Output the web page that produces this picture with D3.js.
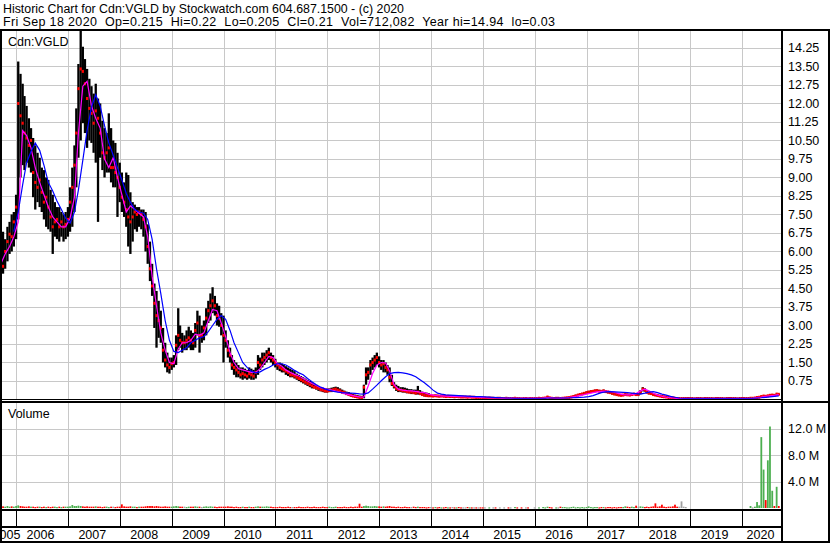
<!DOCTYPE html>
<html><head><meta charset="utf-8">
<script src="https://cdn.jsdelivr.net/npm/d3@7"></script>
<style>
html,body{margin:0;padding:0;background:#fff;}
svg{display:block;font-family:"Liberation Sans",Arial,sans-serif;}
</style></head><body>
<svg id="c" width="830" height="543"></svg>
<script>
// ---------- DATA ----------
const headerLine1 = "Historic Chart for Cdn:VGLD by Stockwatch.com 604.687.1500 - (c) 2020";
const headerLine2 = "Fri Sep 18 2020  Op=0.215  Hi=0.22  Lo=0.205  Cl=0.21  Vol=712,082  Year hi=14.94  lo=0.03";
const symbolLabel = "Cdn:VGLD";
const volumeLabel = "Volume";
const yearLabels = ["2005","2006","2007","2008","2009","2010","2011","2012","2013","2014","2015","2016","2017","2018","2019","2020"];
const priceTickLabels = ["0.75","1.50","2.25","3.00","3.75","4.50","5.25","6.00","6.75","7.50","8.25","9.00","9.75","10.50","11.25","12.00","12.75","13.50","14.25"];
const volTickValues = [4, 8, 12];
const volTickLabels = ["4.0 M","8.0 M","12.0 M"];

// semi-monthly periods from 16 Sep 2005 to 16 Sep 2020 (361 periods)
const high = [
6.4,6.8,6.5,7.0,7.2,7.5,7.6,
8.3,13.7,13.2,12.8,12.3,11.9,11.4,11.0,10.6,10.3,10.0,9.8,9.4,9.3,9.0,8.9,8.5,8.3,8.0,7.8,7.8,7.6,7.5,7.6,
7.8,8.6,9.4,10.3,11.8,13.6,14.94,14.3,13.8,13.4,13.0,12.7,12.4,12.8,12.2,12.0,11.3,11.0,10.8,11.6,11.0,10.5,10.4,10.0,
9.6,9.2,8.8,9.2,9.1,8.4,8.0,7.9,7.8,7.8,7.7,7.7,7.6,7.1,6.4,5.5,4.7,4.4,4.0,3.6,2.9,2.3,1.9,1.7,
1.7,1.8,2.6,3.7,3.0,2.7,2.6,2.8,2.95,2.8,2.7,3.1,3.6,3.4,3.0,3.2,3.7,4.0,4.3,4.55,4.2,3.9,3.8,3.5,
3.4,2.8,2.4,2.1,1.8,1.6,1.5,1.4,1.3,1.3,1.25,1.2,1.3,1.25,1.2,1.3,1.8,1.7,1.9,1.9,2.0,2.1,1.9,1.8,
1.65,1.5,1.5,1.45,1.4,1.35,1.3,1.25,1.2,1.15,1.05,1.0,0.95,0.9,0.85,0.8,0.75,0.7,0.65,0.6,0.55,0.5,0.48,0.45,
0.45,0.45,0.48,0.5,0.52,0.5,0.45,0.4,0.36,0.32,0.3,0.26,0.22,0.2,0.18,0.16,0.15,0.6,1.3,1.3,1.6,1.7,1.8,1.9,
1.75,1.6,1.6,1.5,1.4,1.3,1.0,0.7,0.6,0.55,0.5,0.5,0.48,0.45,0.42,0.42,0.4,0.4,0.55,0.38,0.32,0.3,0.28,0.26,
0.2,0.19,0.2,0.19,0.18,0.19,0.18,0.17,0.18,0.16,0.16,0.15,0.16,0.15,0.14,0.14,0.13,0.12,0.13,0.12,0.12,0.11,0.11,0.1,
0.08,0.08,0.07,0.08,0.07,0.07,0.06,0.07,0.07,0.06,0.06,0.07,0.06,0.06,0.06,0.07,0.06,0.06,0.05,0.06,0.06,0.05,0.06,0.06,
0.06,0.06,0.07,0.06,0.07,0.08,0.13,0.1,0.07,0.06,0.07,0.07,0.06,0.07,0.08,0.09,0.11,0.13,0.16,0.19,0.22,0.25,0.27,0.3,
0.33,0.35,0.37,0.38,0.4,0.41,0.39,0.38,0.4,0.37,0.35,0.33,0.3,0.27,0.25,0.22,0.21,0.22,0.24,0.23,0.22,0.24,0.26,0.25,
0.25,0.38,0.5,0.45,0.36,0.31,0.29,0.25,0.22,0.2,0.18,0.15,0.14,0.13,0.1,0.09,0.08,0.07,0.06,0.06,0.06,0.06,0.06,0.06,
0.06,0.05,0.05,0.06,0.05,0.05,0.05,0.06,0.05,0.05,0.05,0.05,0.06,0.05,0.05,0.05,0.05,0.06,0.05,0.05,0.05,0.05,0.05,0.05,
0.05,0.05,0.06,0.05,0.06,0.07,0.08,0.1,0.12,0.15,0.17,0.16,0.18,0.2,0.21,0.2,0.24,0.23
];
const low = [
5.2,5.1,5.3,5.6,5.9,6.0,6.2,
6.5,7.3,9.0,9.5,9.3,9.6,9.4,9.2,8.2,7.7,8.0,7.8,7.6,7.3,7.0,6.9,6.8,5.9,6.6,6.5,6.4,6.6,6.4,6.5,
6.6,6.8,7.0,7.6,8.6,9.8,10.5,11.2,10.8,10.2,10.5,10.4,10.0,9.6,7.2,9.8,9.3,9.0,9.2,9.2,8.8,8.6,8.6,7.4,
8.0,7.6,7.4,7.0,6.2,5.9,6.4,6.9,6.8,7.0,6.9,6.6,6.0,5.5,4.8,4.2,2.9,2.1,2.5,2.3,1.5,1.3,1.1,1.05,
1.2,1.3,1.4,2.0,2.1,1.9,2.0,2.0,2.1,2.0,2.0,2.1,2.6,1.9,2.3,2.4,2.6,3.1,3.2,3.5,3.4,3.0,2.95,2.6,
1.5,2.1,1.7,1.5,1.2,1.0,0.9,0.9,0.85,0.8,0.85,0.8,0.85,0.8,0.8,0.85,1.0,1.2,1.3,1.4,1.5,1.6,1.5,1.4,
1.3,1.2,1.15,1.1,1.1,1.0,0.95,0.9,0.9,0.85,0.8,0.75,0.7,0.65,0.6,0.55,0.5,0.45,0.45,0.4,0.35,0.33,0.3,0.28,
0.28,0.3,0.3,0.32,0.33,0.3,0.28,0.25,0.22,0.18,0.15,0.12,0.1,0.08,0.06,0.05,0.04,0.05,0.6,0.8,1.0,1.2,1.3,1.4,
1.3,1.2,1.1,1.1,1.0,0.7,0.55,0.45,0.35,0.3,0.3,0.28,0.28,0.25,0.25,0.22,0.22,0.2,0.2,0.18,0.15,0.12,0.1,0.1,
0.11,0.1,0.11,0.1,0.1,0.1,0.1,0.09,0.09,0.09,0.08,0.08,0.08,0.08,0.07,0.07,0.07,0.06,0.07,0.06,0.06,0.05,0.05,0.05,
0.04,0.04,0.03,0.04,0.03,0.03,0.03,0.03,0.03,0.03,0.03,0.03,0.03,0.03,0.02,0.03,0.03,0.02,0.02,0.02,0.02,0.02,0.02,0.02,
0.02,0.02,0.03,0.02,0.03,0.04,0.06,0.05,0.03,0.02,0.03,0.03,0.02,0.03,0.04,0.05,0.06,0.07,0.09,0.11,0.14,0.16,0.18,0.2,
0.23,0.25,0.27,0.28,0.3,0.31,0.29,0.28,0.3,0.27,0.25,0.23,0.2,0.18,0.16,0.14,0.13,0.14,0.16,0.15,0.14,0.16,0.18,0.16,
0.16,0.22,0.33,0.32,0.25,0.21,0.19,0.16,0.14,0.12,0.1,0.09,0.08,0.07,0.06,0.05,0.04,0.03,0.03,0.03,0.03,0.02,0.02,0.02,
0.02,0.03,0.02,0.02,0.03,0.02,0.02,0.03,0.02,0.03,0.02,0.02,0.02,0.03,0.02,0.02,0.02,0.02,0.03,0.02,0.02,0.02,0.02,0.02,
0.03,0.03,0.03,0.03,0.04,0.04,0.05,0.06,0.07,0.09,0.11,0.11,0.12,0.14,0.15,0.15,0.18,0.2
];
const close = [
5.6,5.4,6.0,6.4,6.7,6.6,7.2,
7.8,12.0,11.5,11.2,10.8,10.6,10.3,10.5,9.2,8.8,8.6,8.9,8.4,8.0,8.2,7.8,7.4,7.0,7.2,7.3,7.0,7.2,7.0,7.1,
7.3,8.0,8.6,9.5,10.8,12.6,13.4,13.3,12.8,12.2,11.8,11.6,11.2,11.7,11.4,10.8,10.0,9.8,10.0,10.2,9.4,9.4,9.2,9.0,
8.6,8.2,8.0,7.7,7.4,7.2,7.4,7.6,7.5,7.6,7.5,7.3,7.0,6.2,5.3,4.6,3.9,3.4,3.2,2.9,2.0,1.6,1.4,1.3,
1.45,1.5,2.2,2.6,2.4,2.3,2.3,2.4,2.5,2.4,2.3,2.8,3.1,2.6,2.6,2.9,3.3,3.6,3.8,4.0,3.8,3.4,3.3,3.0,
2.6,2.4,2.0,1.8,1.4,1.3,1.2,1.1,1.0,1.05,1.0,0.95,1.05,1.0,0.95,1.1,1.5,1.4,1.6,1.7,1.8,1.9,1.7,1.6,
1.5,1.4,1.3,1.25,1.2,1.15,1.1,1.0,1.0,0.95,0.9,0.85,0.8,0.75,0.7,0.65,0.6,0.55,0.5,0.48,0.45,0.4,0.38,0.35,
0.34,0.36,0.38,0.4,0.42,0.38,0.35,0.3,0.28,0.24,0.2,0.17,0.14,0.12,0.1,0.08,0.07,0.5,1.0,1.1,1.4,1.5,1.6,1.7,
1.5,1.4,1.45,1.3,1.2,0.9,0.65,0.55,0.45,0.4,0.38,0.36,0.35,0.32,0.3,0.3,0.28,0.26,0.3,0.24,0.2,0.18,0.16,0.15,
0.15,0.14,0.15,0.14,0.13,0.14,0.13,0.12,0.13,0.12,0.12,0.11,0.12,0.11,0.1,0.1,0.1,0.09,0.1,0.09,0.09,0.08,0.08,0.07,
0.06,0.06,0.05,0.06,0.05,0.05,0.04,0.05,0.05,0.04,0.04,0.05,0.04,0.04,0.04,0.05,0.04,0.04,0.03,0.04,0.04,0.03,0.04,0.04,
0.04,0.04,0.05,0.04,0.05,0.06,0.1,0.07,0.05,0.04,0.05,0.05,0.04,0.05,0.06,0.07,0.08,0.1,0.12,0.15,0.18,0.2,0.22,0.25,
0.28,0.3,0.32,0.33,0.35,0.36,0.34,0.33,0.35,0.32,0.3,0.28,0.25,0.22,0.2,0.18,0.17,0.18,0.2,0.19,0.18,0.2,0.22,0.2,
0.2,0.3,0.42,0.38,0.3,0.26,0.24,0.2,0.18,0.16,0.14,0.12,0.11,0.1,0.08,0.07,0.06,0.05,0.04,0.04,0.04,0.04,0.04,0.04,
0.04,0.04,0.03,0.04,0.04,0.04,0.03,0.04,0.04,0.04,0.04,0.03,0.04,0.04,0.04,0.04,0.03,0.04,0.04,0.04,0.04,0.04,0.03,0.04,
0.04,0.04,0.04,0.04,0.05,0.05,0.06,0.08,0.09,0.12,0.14,0.13,0.15,0.17,0.18,0.17,0.22,0.21
];
// volume in millions of shares, semi-monthly
const volume = [
0.2,0.25,0.2,0.3,0.2,0.25,0.2,
0.3,0.4,0.3,0.25,0.2,0.2,0.25,0.2,0.2,0.15,0.2,0.2,0.15,0.2,0.15,0.2,0.15,0.2,0.2,0.15,0.2,0.15,0.2,0.2,
0.2,0.25,0.45,0.3,0.3,0.35,0.3,0.25,0.2,0.25,0.2,0.2,0.2,0.25,0.2,0.2,0.15,0.2,0.2,0.15,0.2,0.2,0.15,0.2,
0.2,0.55,0.25,0.2,0.2,0.25,0.2,0.2,0.15,0.2,0.2,0.2,0.25,0.3,0.3,0.3,0.25,0.3,0.25,0.2,0.2,0.25,0.2,0.2,
0.2,0.25,0.3,0.25,0.2,0.2,0.2,0.15,0.2,0.2,0.2,0.25,0.2,0.2,0.15,0.2,0.25,0.2,0.25,0.2,0.2,0.15,0.2,0.2,
0.2,0.2,0.25,0.2,0.2,0.15,0.2,0.15,0.15,0.2,0.15,0.15,0.2,0.15,0.15,0.2,0.25,0.2,0.2,0.2,0.25,0.2,0.2,0.15,
0.15,0.15,0.2,0.15,0.15,0.15,0.2,0.15,0.15,0.15,0.15,0.2,0.15,0.15,0.15,0.2,0.15,0.15,0.2,0.15,0.15,0.15,0.2,0.15,
0.15,0.2,0.15,0.15,0.2,0.15,0.15,0.15,0.2,0.15,0.15,0.2,0.15,0.2,0.2,0.65,0.2,0.3,0.35,0.3,0.25,0.25,0.3,0.25,
0.25,0.2,0.25,0.2,0.25,0.3,0.2,0.2,0.15,0.2,0.15,0.15,0.2,0.15,0.15,0.15,0.2,0.15,0.2,0.15,0.15,0.15,0.1,0.15,
0.15,0.1,0.15,0.1,0.15,0.1,0.1,0.15,0.1,0.1,0.15,0.1,0.1,0.15,0.1,0.1,0.1,0.15,0.1,0.1,0.1,0.1,0.1,0.1,
0.1,0.1,0,0.1,0,0.1,0.1,0,0.1,0,0.1,0,0.1,0.1,0,0.15,0.1,0,0.1,0,0.1,0.1,0,0,
0.1,0,0.1,0,0.15,0.1,0.2,0.15,0.1,0,0.1,0.1,0.2,0.15,0.15,0.1,0.1,0.15,0.2,0.1,0.15,0.1,0.15,0.1,
0.15,0.25,0.15,0.1,0.15,0.15,0.1,0.15,0.15,0.1,0.15,0.15,0.1,0.15,0.1,0.15,0.15,0.15,0.25,0.2,0.15,0.2,0.15,0.35,
0.2,0.25,0.2,0.15,0.2,0.15,0.2,0.25,0.7,0.2,0.25,0.5,0.2,0.15,0.2,0.2,0.25,0.5,0.2,0.2,1.0,0.2,0.15,0,
0,0,0,0,0,0,0,0,0,0,0,0,0,0,0,0,0,0,0,0,0,0,0,0,
0,0,0,0,0.3,0.1,0.2,0.9,0.4,10.7,5.8,1.2,7.2,12.3,2.6,0.3,3.2,0.3
];
// monthly moving-average readings (mid-month, Sep 2005 .. Sep 2020)
const maFast = [
5.5,5.9,6.2,6.6,7.2,10.9,10.7,10.2,9.4,8.8,8.3,7.8,7.4,7.2,7.0,7.0,7.35,8.2,10.8,12.7,12.9,11.9,11.4,11.0,
9.75,9.4,9.8,9.0,8.3,7.6,7.85,7.7,7.55,7.4,6.6,5.0,3.8,2.7,2.0,1.5,1.45,2.05,2.3,2.3,2.4,2.65,2.6,2.7,
3.2,3.65,3.6,3.1,2.55,1.9,1.5,1.25,1.2,1.15,1.1,1.1,1.25,1.5,1.75,1.7,1.45,1.35,1.2,1.1,1.02,0.95,0.85,0.75,
0.65,0.57,0.48,0.44,0.4,0.36,0.32,0.27,0.22,0.18,0.14,0.11,0.1,0.55,1.05,1.4,1.5,1.48,1.15,0.6,0.42,0.38,0.36,0.35,
0.33,0.3,0.28,0.22,0.18,0.16,0.15,0.14,0.13,0.13,0.12,0.12,0.11,0.1,0.1,0.09,0.07,0.06,0.06,0.06,0.05,0.05,0.05,0.05,
0.05,0.05,0.05,0.05,0.05,0.05,0.07,0.08,0.06,0.05,0.06,0.07,0.1,0.13,0.17,0.2,0.24,0.28,0.31,0.33,0.34,0.33,0.3,0.24,
0.2,0.19,0.2,0.24,0.35,0.42,0.35,0.25,0.18,0.13,0.09,0.07,0.05,0.04,0.04,0.04,0.04,0.04,0.04,0.04,0.04,0.04,0.04,0.04,
0.04,0.04,0.04,0.04,0.04,0.04,0.05,0.08,0.1,0.13,0.15,0.17,0.2
];
const maSlow = [
null,null,null,6.8,7.6,8.7,9.6,10.05,10.4,10.1,9.5,8.8,8.45,8.05,7.7,7.35,7.15,7.6,8.5,9.7,10.9,11.85,12.35,11.9,
11.1,10.4,9.9,9.4,8.9,8.35,8.0,7.7,7.6,7.55,7.3,6.5,5.3,4.3,3.2,2.4,1.95,1.9,2.0,2.1,2.3,2.4,2.5,2.55,
2.75,3.0,3.25,3.4,3.25,2.8,2.3,1.9,1.5,1.3,1.15,1.08,1.12,1.22,1.3,1.4,1.45,1.45,1.4,1.3,1.18,1.08,1.0,0.85,
0.72,0.6,0.5,0.43,0.37,0.33,0.3,0.28,0.27,0.26,0.25,0.23,0.22,0.27,0.42,0.58,0.76,0.92,1.05,1.09,1.1,1.08,1.05,1.0,
0.92,0.8,0.68,0.54,0.38,0.26,0.22,0.19,0.18,0.17,0.16,0.15,0.14,0.13,0.12,0.12,0.11,0.1,0.09,0.08,0.07,0.06,0.06,0.05,
0.05,0.05,0.05,0.05,0.05,0.05,0.05,0.06,0.06,0.06,0.06,0.06,0.07,0.08,0.09,0.1,0.12,0.16,0.22,0.28,0.31,0.32,0.31,0.3,
0.29,0.28,0.26,0.24,0.22,0.26,0.3,0.32,0.28,0.22,0.18,0.13,0.09,0.06,0.05,0.05,0.05,0.05,0.05,0.05,0.05,0.05,0.05,0.05,
0.05,0.05,0.05,0.05,0.05,0.05,0.05,0.06,0.07,0.09,0.11,0.13,0.15
];

// ---------- TABLES ----------
const periodDate = i => new Date(2005, 8 + Math.floor((i + 1) / 2), i % 2 === 0 ? 16 : 1);
const bars = close.map((c, i) => ({
  d: periodDate(i), h: high[i], l: low[i], c: c, v: volume[i],
  dir: i === 0 ? 1 : Math.sign(c - close[i - 1])
}));
const monthDate = j => new Date(2005, 8 + j, 16);
const fastPts = maFast.map((v, j) => ({ d: monthDate(j), v }));
const slowPts = maSlow.map((v, j) => ({ d: monthDate(j), v }));

// ---------- LAYOUT ----------
const svg = d3.select("#c");
const W = 830, H = 543;
const L = 2, R = 782;
const priceTop = 30, priceBot = 399.5;
const volTop = 403, volBot = 509;
const FONT = "Liberation Sans, Arial, sans-serif";
const FS = 12.5;

const x = d3.scaleTime().domain([new Date(2006, 0, 1), new Date(2020, 0, 1)]).range([16.1, 742]);
const y = d3.scaleLinear().domain([0, 15]).range([399.5, 399.5 - 15 * 24.67]);
const yv = d3.scaleLinear().domain([0, 12]).range([508, 428.5]);

svg.append("rect").attr("width", W).attr("height", H).attr("fill", "#fff");

const defs = svg.append("defs");
defs.append("clipPath").attr("id", "cp").append("rect").attr("x", L).attr("y", priceTop).attr("width", R - L).attr("height", priceBot - priceTop);
defs.append("clipPath").attr("id", "cv").append("rect").attr("x", L).attr("y", volTop).attr("width", R - L).attr("height", volBot - volTop);
defs.append("clipPath").attr("id", "cx").append("rect").attr("x", L).attr("y", 527).attr("width", R - L - 1).attr("height", 15);

// header
svg.append("text").attr("x", 3).attr("y", 12.5).attr("font-family", FONT).attr("font-size", 12.5)
  .attr("textLength", 401).attr("lengthAdjust", "spacingAndGlyphs").text(headerLine1);
svg.append("text").attr("x", 3).attr("y", 25.5).attr("font-family", FONT).attr("font-size", 12.5)
  .attr("xml:space", "preserve").style("white-space", "pre")
  .attr("textLength", 552).attr("lengthAdjust", "spacing").text(headerLine2);

const yearStarts = d3.range(2006, 2021).map(Y => new Date(Y, 0, 1));
const GRID = "#c8c8c8";
const px = v => Math.round(v) + 0.5;

// price grid
const gp = svg.append("g");
gp.selectAll("line.h").data(priceTickLabels.map(Number)).join("line")
  .attr("x1", L).attr("x2", R).attr("y1", d => px(y(d))).attr("y2", d => px(y(d)))
  .attr("stroke", GRID).attr("stroke-width", 1);
gp.selectAll("line.v").data(yearStarts).join("line")
  .attr("x1", d => px(x(d))).attr("x2", d => px(x(d))).attr("y1", priceTop).attr("y2", priceBot)
  .attr("stroke", GRID).attr("stroke-width", 1);

// volume grid
const gvg = svg.append("g");
gvg.selectAll("line.h").data(volTickValues).join("line")
  .attr("x1", L).attr("x2", R).attr("y1", d => px(yv(d))).attr("y2", d => px(yv(d)))
  .attr("stroke", GRID).attr("stroke-width", 1);
gvg.selectAll("line.v").data(yearStarts).join("line")
  .attr("x1", d => px(x(d))).attr("x2", d => px(x(d))).attr("y1", volTop).attr("y2", volBot)
  .attr("stroke", GRID).attr("stroke-width", 1);

// price bars
const gb = svg.append("g").attr("clip-path", "url(#cp)");
gb.selectAll("rect.bar").data(bars).join("rect")
  .attr("x", d => x(d.d) - 1.15).attr("width", 2.3)
  .attr("y", d => y(d.h)).attr("height", d => Math.max(1, y(d.l) - y(d.h)))
  .attr("fill", "#000");
gb.selectAll("rect.cl").data(bars).join("rect")
  .attr("x", d => x(d.d) - 1.1).attr("width", 2.2)
  .attr("y", d => y(d.c) - 1.5).attr("height", 3)
  .attr("fill", "#ff0000");

const line = d3.line().defined(d => d.v != null).x(d => x(d.d)).y(d => y(d.v));
gb.append("path").datum(fastPts).attr("d", line).attr("fill", "none").attr("stroke", "#ff00ff").attr("stroke-width", 1.2);
gb.append("path").datum(slowPts).attr("d", line).attr("fill", "none").attr("stroke", "#0000ff").attr("stroke-width", 1.2);

// volume bars
const gv = svg.append("g").attr("clip-path", "url(#cv)");
gv.selectAll("rect").data(bars.filter(b => b.v > 0)).join("rect")
  .attr("x", d => x(d.d) - 0.9).attr("width", 1.8)
  .attr("y", d => yv(d.v)).attr("height", d => Math.max(1.2, yv(0) - yv(d.v)))
  .attr("fill", d => d.dir > 0 ? "#4caf50" : d.dir < 0 ? "#ff0000" : "#a0a0a0");

// labels inside panels
svg.append("text").attr("x", 8).attr("y", 45.5).attr("font-family", FONT).attr("font-size", FS).text(symbolLabel);
svg.append("text").attr("x", 8).attr("y", 418).attr("font-family", FONT).attr("font-size", FS).text(volumeLabel);

// right axes
const ay = svg.append("g").attr("transform", `translate(${R},0)`)
  .call(d3.axisRight(y).tickValues(priceTickLabels.map(Number)).tickFormat((d, i) => priceTickLabels[i]).tickSize(0).tickPadding(6));
ay.select(".domain").remove();
ay.selectAll("text").attr("font-family", FONT).attr("font-size", FS).attr("fill", "#000");

const av = svg.append("g").attr("transform", `translate(${R},0)`)
  .call(d3.axisRight(yv).tickValues(volTickValues).tickFormat((d, i) => volTickLabels[i]).tickSize(0).tickPadding(6));
av.select(".domain").remove();
av.selectAll("text").attr("font-family", FONT).attr("font-size", FS).attr("fill", "#000");

// bottom date rows
const gx = svg.append("g");
gx.selectAll("line.sep").data(yearStarts).join("line")
  .attr("x1", d => px(x(d))).attr("x2", d => px(x(d))).attr("y1", 510).attr("y2", 527)
  .attr("stroke", "#000").attr("stroke-width", 1);
const yearSpan = yearLabels.map(s => {
  const Y = +s;
  const a = Math.max(0, x(new Date(Y, 0, 1)));
  const b = Math.min(R, x(new Date(Y + 1, 0, 1)));
  return { s, c: (a + b) / 2 - 1.5 };
});
svg.append("g").attr("clip-path", "url(#cx)").selectAll("text").data(yearSpan).join("text")
  .attr("x", d => d.c).attr("y", 539).attr("text-anchor", "middle")
  .attr("font-family", FONT).attr("font-size", FS).text(d => d.s);

// frame lines
const frame = svg.append("g").attr("fill", "#000");
frame.append("rect").attr("x", 0).attr("y", 29).attr("width", W).attr("height", 2);      // top
frame.append("rect").attr("x", 0).attr("y", 29).attr("width", 2).attr("height", H - 29); // left
frame.append("rect").attr("x", W - 2).attr("y", 29).attr("width", 2).attr("height", H - 29); // right
frame.append("rect").attr("x", 0).attr("y", H - 2).attr("width", W).attr("height", 2);  // bottom
frame.append("rect").attr("x", R - 1).attr("y", 29).attr("width", 2).attr("height", H - 29); // axis line
frame.append("rect").attr("x", L).attr("y", 399).attr("width", R - L).attr("height", 1); // price bottom
frame.append("rect").attr("x", 0).attr("y", 401).attr("width", W).attr("height", 2);    // vol top
frame.append("rect").attr("x", 0).attr("y", 509).attr("width", R).attr("height", 2);    // vol bottom
frame.append("rect").attr("x", 0).attr("y", 526).attr("width", R).attr("height", 2);    // box row bottom
</script>
</body></html>
